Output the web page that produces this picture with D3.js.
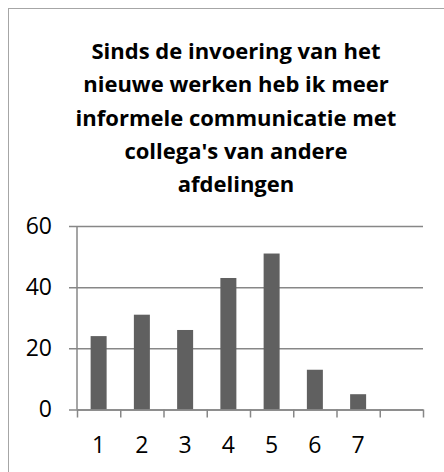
<!DOCTYPE html>
<html>
<head>
<meta charset="utf-8">
<script src="https://cdn.jsdelivr.net/npm/d3@7"></script>
<style>
  html, body { margin: 0; padding: 0; background: #fff; }
  svg { display: block; }
  .tick text { font-family: "Open Sans", sans-serif; fill: #000; }
</style>
</head>
<body>
<svg id="chart"></svg>
<script>
// answer scale 1..7, last slot left empty as in the survey sheet
const categories = ["1", "2", "3", "4", "5", "6", "7", ""];
const counts = [24, 31, 26, 43, 51, 13, 5, null];
const yTicks = [0, 20, 40, 60];
const titleLines = [
    "Sinds de invoering van het",
    "nieuwe werken heb ik meer",
    "informele communicatie met",
    "collega's van andere",
    "afdelingen"
];

const W = 444, H = 472;
const margin = { top: 226, right: 21, bottom: 62.5, left: 77 };
const width = W - margin.left - margin.right;
const height = H - margin.top - margin.bottom;

const svg = d3.select("#chart")
    .attr("width", W)
    .attr("height", H);

// chart area frame (runs off the right and bottom edges)
svg.append("rect")
    .attr("x", 8.5)
    .attr("y", 8.5)
    .attr("width", 600)
    .attr("height", 600)
    .attr("fill", "none")
    .attr("stroke", "#a6a6a6")
    .attr("stroke-width", 1);

svg.append("text")
    .attr("text-anchor", "middle")
    .attr("font-family", "Open Sans, sans-serif")
    .attr("font-weight", "bold")
    .attr("font-size", 22)
    .attr("fill", "#000")
    .selectAll("tspan")
    .data(titleLines)
    .enter().append("tspan")
    .attr("x", 236)
    .attr("y", (d, i) => 59 + i * 33.3)
    .text(d => d);

const g = svg.append("g")
    .attr("transform", "translate(" + margin.left + "," + margin.top + ")");

const x = d3.scaleBand()
    .domain(categories)
    .range([0, width])
    .paddingInner(0.63)
    .paddingOuter(0.315);

// tick marks sit between categories
const xEdges = d3.scaleLinear()
    .domain([0, categories.length])
    .range([0, width]);

const y = d3.scaleLinear()
    .domain([0, 60])
    .range([height, 0]);

const gridColor = "#878787";

// horizontal gridlines, starting a little left of the axis as outer ticks
const grid = g.append("g")
    .attr("transform", "translate(-8,0)")
    .call(d3.axisRight(y).tickValues(yTicks).tickSize(width + 8).tickFormat(""));
grid.select(".domain").remove();
grid.selectAll("line")
    .attr("stroke", gridColor)
    .attr("stroke-width", 1.5);

const yAxis = g.append("g")
    .call(d3.axisLeft(y).tickValues(yTicks).tickSize(0).tickPadding(25));
yAxis.select(".domain").remove();
yAxis.selectAll("text").attr("font-size", 23);

g.append("line")
    .attr("x1", 0).attr("x2", 0)
    .attr("y1", y(60)).attr("y2", y(0))
    .attr("stroke", gridColor)
    .attr("stroke-width", 1.5);

g.selectAll(".bar")
    .data(categories.map((c, i) => ({ cat: c, value: counts[i] })).filter(d => d.value != null))
    .enter().append("rect")
    .attr("class", "bar")
    .attr("x", d => x(d.cat))
    .attr("y", d => y(d.value))
    .attr("width", x.bandwidth())
    .attr("height", d => y(0) - y(d.value))
    .attr("fill", "#606060");

const xTicks = g.append("g")
    .attr("transform", "translate(0," + height + ")")
    .call(d3.axisBottom(xEdges).tickValues(d3.range(categories.length + 1)).tickSize(8).tickSizeOuter(0).tickFormat(""));
xTicks.select(".domain")
    .attr("stroke", gridColor)
    .attr("stroke-width", 1.5);
xTicks.selectAll("line")
    .attr("stroke", gridColor)
    .attr("stroke-width", 1.5);

const xAxis = g.append("g")
    .attr("transform", "translate(0," + height + ")")
    .call(d3.axisBottom(x).tickSize(0).tickPadding(27));
xAxis.select(".domain").remove();
xAxis.selectAll("text").attr("font-size", 23);
</script>
</body>
</html>
